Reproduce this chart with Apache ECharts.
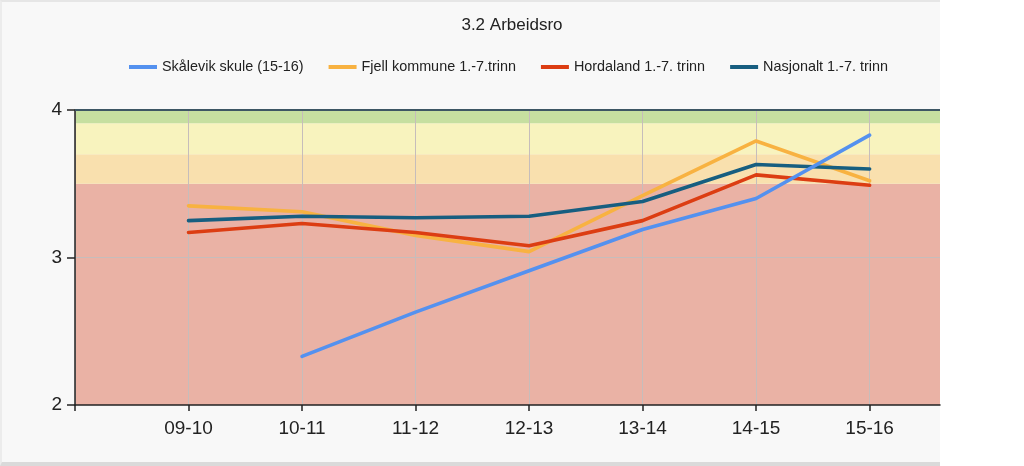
<!DOCTYPE html>
<html>
<head>
<meta charset="utf-8">
<script src="https://cdn.jsdelivr.net/npm/echarts@6/dist/echarts.min.js"></script>
<style>
  html, body { margin: 0; padding: 0; background: #ffffff; }
  #bg { position: absolute; left: 0; top: 0; width: 940px; height: 466px; background: #f8f8f8;
        box-sizing: border-box; border-top: 2px solid #e6e6e6; border-left: 2px solid #ececec; border-bottom: 4px solid #dadada; }
  #chart { position: absolute; left: 0; top: 0; width: 1024px; height: 466px; }
</style>
</head>
<body>
<div id="bg"></div>
<div id="chart"></div>
<script>
const title = '3.2 Arbeidsro';
const categories = ['09-10', '10-11', '11-12', '12-13', '13-14', '14-15', '15-16'];
const seriesNames = ['Skålevik skule (15-16)', 'Fjell kommune 1.-7.trinn', 'Hordaland 1.-7. trinn', 'Nasjonalt 1.-7. trinn'];
const skalevik  = [null, 2.33, 2.63, 2.91, 3.19, 3.40, 3.83];
const fjell     = [3.35, 3.31, 3.15, 3.04, 3.42, 3.79, 3.52];
const hordaland = [3.17, 3.23, 3.17, 3.08, 3.25, 3.56, 3.49];
const nasjonalt = [3.25, 3.28, 3.27, 3.28, 3.38, 3.63, 3.60];
const yTicks = [2, 3, 4];
const bands = [
  { from: 2,    to: 3.5,  color: '#eab2a5' },
  { from: 3.5,  to: 3.7,  color: '#f9e0ae' },
  { from: 3.7,  to: 3.91, color: '#f8f3be' },
  { from: 3.91, to: 4,    color: '#c6dfa0' }
];
const colors = ['#5491ef', '#f8b241', '#dc3d12', '#175e80'];

const font = 'Liberation Sans, Arial, sans-serif';
const toPairs = arr => arr.map((v, i) => [i + 1, v]);
const tickVals = [0].concat(categories.map((c, i) => i + 1));

const chart = echarts.init(document.getElementById('chart'), null, { renderer: 'canvas' });
const valuesList = [skalevik, fjell, hordaland, nasjonalt];
const zs = [6, 3, 4, 5];

const lineSeries = valuesList.map((vals, k) => ({
  name: seriesNames[k],
  type: 'line',
  data: toPairs(vals),
  symbol: 'none',
  showSymbol: false,
  connectNulls: false,
  z: zs[k],
  lineStyle: { color: colors[k], width: 3.6, cap: 'round', join: 'round' },
  itemStyle: { color: colors[k] },
  emphasis: { disabled: true },
  animation: false
}));

chart.setOption({
  backgroundColor: 'transparent',
  animation: false,
  title: {
    text: title, left: 'center', top: 12,
    textStyle: { fontFamily: font, fontSize: 17, fontWeight: 'normal', color: '#222' }
  },
  legend: {
    data: seriesNames, left: 124, top: 55,
    icon: 'rect', itemWidth: 28, itemHeight: 4, itemGap: 25,
    textStyle: { fontFamily: font, fontSize: 14.4, color: '#222' }
  },
  grid: { left: 75, right: 84, top: 110, bottom: 61, containLabel: false },
  xAxis: {
    type: 'value', min: 0, max: 7.62, interval: 1, z: 2,
    axisLine: { show: true, onZero: false, lineStyle: { color: '#222', width: 1.5 } },
    axisTick: { show: true, length: 6, customValues: tickVals, lineStyle: { color: '#222', width: 1.5 } },
    axisLabel: {
      customValues: categories.map((c, i) => i + 1),
      margin: 14, fontFamily: font, fontSize: 19, color: '#222',
      formatter: v => (Number.isInteger(v) && v >= 1 && v <= categories.length) ? categories[v - 1] : ''
    },
    splitLine: { show: true, lineStyle: { color: '#c6bdbb', width: 1 } }
  },
  yAxis: {
    type: 'value', min: 2, max: 4, interval: 1, z: 2,
    axisLine: { show: true, lineStyle: { color: '#222', width: 1.5 } },
    axisTick: { show: true, length: 8, lineStyle: { color: '#222', width: 1.5 } },
    axisLabel: { margin: 13, fontFamily: font, fontSize: 19, color: '#222',
      formatter: v => yTicks.includes(v) ? String(v) : '' },
    splitLine: { show: true, lineStyle: { color: ['transparent', '#c6bdbb', 'transparent'], width: 1 } }
  },
  series: [{
    name: '_bands', type: 'line', data: [], z: 1, silent: true,
    markArea: {
      silent: true,
      data: bands.map(b => [{ yAxis: b.from, itemStyle: { color: b.color } }, { yAxis: b.to }])
    },
    markLine: {
      silent: true, symbol: 'none', label: { show: false },
      lineStyle: { color: '#3d5664', width: 2, type: 'solid' },
      data: [{ yAxis: 4 }]
    }
  }].concat(lineSeries)
});
</script>
</body>
</html>
